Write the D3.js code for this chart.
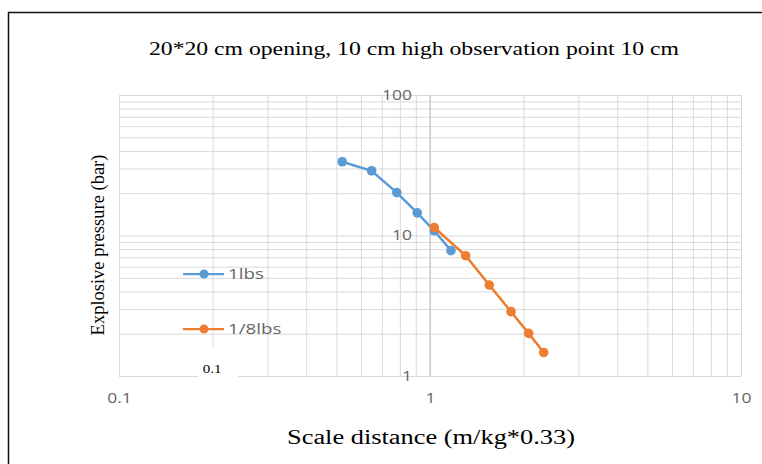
<!DOCTYPE html>
<html>
<head>
<meta charset="utf-8">
<script src="https://cdn.jsdelivr.net/npm/d3@7"></script>
<style>
  body { margin: 0; background: #fff; }
  .tick text { fill: #666; font-family: "Open Sans", sans-serif; font-size: 14px; }
  .grid line { stroke: #d9d9d9; stroke-width: 1; }
  .grid path { display: none; }
  .lab path { display: none; }
</style>
</head>
<body>
<svg width="762" height="464"></svg>
<script>
// data
const seriesNames = ["1lbs", "1/8lbs"];
const lbs1X = [0.522, 0.649, 0.782, 0.910, 1.032, 1.168];
const lbs1Y = [33.5, 28.9, 20.2, 14.5, 10.8, 7.8];
const lbs8X = [1.032, 1.302, 1.551, 1.822, 2.076, 2.321];
const lbs8Y = [11.4, 7.18, 4.44, 2.87, 2.01, 1.47];
const xTicks = [0.1, 1, 10];
const yTicks = [1, 10, 100];
const colors = ["#5b9bd5", "#ed7d31"];

const W = 762, H = 464;
const plot = { left: 119, right: 741, top: 95, bottom: 376 };
const stretch = 1.25; // source picture is widened horizontally

const svg = d3.select("svg");

// widen a text node in place
function widen(sel, k) {
  sel.each(function () {
    const w = this.getComputedTextLength();
    d3.select(this).attr("textLength", w * k).attr("lengthAdjust", "spacingAndGlyphs");
  });
}

// outer frame (only top + left visible)
svg.append("path")
  .attr("d", `M8.5,${H} L8.5,12.5 L${W},12.5`)
  .attr("fill", "none")
  .attr("stroke", "#111")
  .attr("stroke-width", 1.5);

const x = d3.scaleLog().domain([0.1, 10]).range([plot.left, plot.right]);
const y = d3.scaleLog().domain([1, 100]).range([plot.bottom, plot.top]);

// minor grid values 1..9 for every decade
const minorX = [], minorY = [];
[0.1, 1].forEach(d => { for (let i = 1; i <= 9; i++) minorX.push(d * i); });
minorX.push(10);
[1, 10].forEach(d => { for (let i = 1; i <= 9; i++) minorY.push(d * i); });
minorY.push(100);

svg.append("g")
  .attr("class", "grid")
  .attr("transform", `translate(0,${plot.bottom})`)
  .call(d3.axisBottom(x).tickValues(minorX).tickSize(-(plot.bottom - plot.top)).tickFormat(""));

svg.append("g")
  .attr("class", "grid")
  .attr("transform", `translate(${plot.left},0)`)
  .call(d3.axisLeft(y).tickValues(minorY).tickSize(-(plot.right - plot.left)).tickFormat(""));

// vertical axis line at x = 1
svg.append("line")
  .attr("x1", x(1)).attr("x2", x(1))
  .attr("y1", plot.top).attr("y2", plot.bottom)
  .attr("stroke", "#bfbfbf");

// x tick labels
const xLab = svg.append("g")
  .attr("class", "lab")
  .attr("transform", `translate(0,${plot.bottom + 17})`)
  .call(d3.axisBottom(x).tickValues(xTicks).tickSize(0).tickPadding(0).tickFormat(d => String(d)));
widen(xLab.selectAll("text"), stretch);

// y tick labels (axis crosses at x = 1)
const yLab = svg.append("g")
  .attr("class", "lab")
  .attr("transform", `translate(${x(1) - 18},0)`)
  .call(d3.axisLeft(y).tickValues(yTicks).tickSize(0).tickPadding(0).tickFormat(d => String(d)));
widen(yLab.selectAll("text"), stretch);

// series
const series = [
  lbs1X.map((v, i) => [v, lbs1Y[i]]),
  lbs8X.map((v, i) => [v, lbs8Y[i]])
];
const line = d3.line().x(d => x(d[0])).y(d => y(d[1]));

series.forEach((s, k) => {
  const g = svg.append("g");
  g.append("path")
    .attr("d", line(s))
    .attr("fill", "none")
    .attr("stroke", colors[k])
    .attr("stroke-width", 2.5);
  g.selectAll("circle")
    .data(s)
    .enter()
    .append("circle")
    .attr("cx", d => x(d[0]))
    .attr("cy", d => y(d[1]))
    .attr("r", 4.8)
    .attr("fill", colors[k]);
});

// legend
const legendY = [274, 329];
seriesNames.forEach((name, k) => {
  const g = svg.append("g").attr("transform", `translate(183,${legendY[k]})`);
  g.append("line").attr("x1", 0).attr("x2", 41)
    .attr("stroke", colors[k]).attr("stroke-width", 2.25);
  g.append("circle").attr("cx", 21).attr("r", 4.5).attr("fill", colors[k]);
  const t = g.append("text")
    .attr("x", 45).attr("dy", "0.35em")
    .attr("fill", "#666")
    .style("font-family", "'Open Sans', sans-serif")
    .style("font-size", "15px")
    .text(name);
  widen(t, stretch);
});

// stray white label box "0.1"
svg.append("rect")
  .attr("x", 198).attr("y", 347).attr("width", 40).attr("height", 33)
  .attr("fill", "#fff");
const stray = svg.append("text")
  .attr("x", 212).attr("y", 373)
  .attr("text-anchor", "middle")
  .style("font-family", "'Liberation Serif', serif")
  .style("font-size", "12px")
  .text("0.1");
widen(stray, stretch);

// titles
const title = svg.append("text")
  .attr("x", 414).attr("y", 55)
  .attr("text-anchor", "middle")
  .style("font-family", "'Liberation Serif', serif")
  .style("font-size", "19px")
  .text("20*20 cm opening, 10 cm high observation point 10 cm");
title.attr("textLength", 530).attr("lengthAdjust", "spacingAndGlyphs");

const xTitle = svg.append("text")
  .attr("x", 431).attr("y", 444)
  .attr("text-anchor", "middle")
  .style("font-family", "'Liberation Serif', serif")
  .style("font-size", "20px")
  .text("Scale distance (m/kg*0.33)");
xTitle.attr("textLength", 288).attr("lengthAdjust", "spacingAndGlyphs");

svg.append("text")
  .attr("transform", "translate(104,245) rotate(-90)")
  .attr("text-anchor", "middle")
  .style("font-family", "'Liberation Serif', serif")
  .style("font-size", "18.5px")
  .text("Explosive pressure (bar)");
</script>
</body>
</html>
